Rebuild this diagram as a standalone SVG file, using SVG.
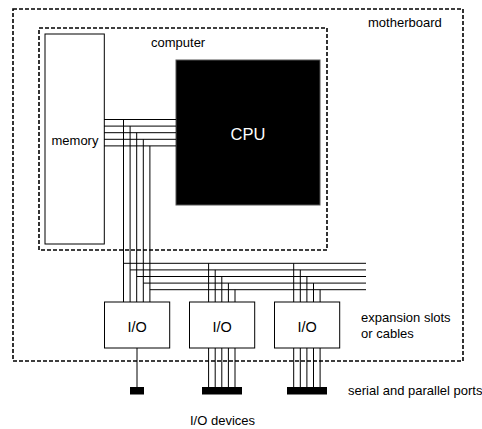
<svg xmlns="http://www.w3.org/2000/svg" width="482" height="429" viewBox="0 0 482 429">
<style>
text{font-family:"Liberation Sans",Arial,sans-serif;font-size:13px;fill:#000}
.dash{fill:none;stroke:#000;stroke-width:1.6;stroke-dasharray:4 2}
.box{fill:#fff;stroke:#000;stroke-width:1}
.w{stroke:#000;stroke-width:1;fill:none}
.port{fill:#000}
</style>
<rect width="482" height="429" fill="#fff"/>
<g id="motherboard">
<rect class="dash" x="13" y="9" width="450" height="352"/>
<text x="368" y="27">motherboard</text>
</g>
<g id="computer">
<rect class="dash" x="39" y="28" width="288" height="222"/>
<text x="151" y="47">computer</text>
</g>
<g id="memory">
<rect class="box" x="45" y="34" width="59.3" height="210" stroke="#444"/>
<text x="51.5" y="145">memory</text>
</g>
<g id="cpu">
<rect x="176" y="60" width="144" height="145" fill="#000" stroke="#555" stroke-width="1"/>
<text x="248" y="140" text-anchor="middle" fill="#fff" style="fill:#fff;font-size:16.5px">CPU</text>
</g>
<g id="connectors">
<path class="w" d="M104 119.5H176M104 126.1H176M104 132.7H176M104 139.3H176M104 145.9H176"/>
<path class="w" d="M123.5 119.5V302M130.1 126.1V302M136.7 132.7V302M143.3 139.3V302M149.9 145.9V302"/>
<path class="w" d="M123.5 263.3H366M130.1 269.9H366M136.7 276.5H366M143.3 283.1H366M149.9 289.7H366"/>
<path class="w" d="M208.6 263.3V302M215.2 269.9V302M221.8 276.5V302M228.4 283.1V302M235 289.7V302"/>
<path class="w" d="M293.7 263.3V302M300.3 269.9V302M306.9 276.5V302M313.5 283.1V302M320.1 289.7V302"/>
<path class="w" d="M137 348V387"/>
<path class="w" d="M208.6 348V387M215.2 348V387M221.8 348V387M228.4 348V387M235 348V387"/>
<path class="w" d="M293.7 348V387M300.3 348V387M306.9 348V387M313.5 348V387M320.1 348V387"/>
</g>
<g id="io1">
<rect class="box" x="104.5" y="302" width="65.2" height="46"/>
<text x="137.1" y="331.5" text-anchor="middle" style="font-size:14.5px">I/O</text>
</g>
<g id="io2">
<rect class="box" x="189.5" y="302" width="65.2" height="46"/>
<text x="222.1" y="331.5" text-anchor="middle" style="font-size:14.5px">I/O</text>
</g>
<g id="io3">
<rect class="box" x="274.5" y="302" width="65.2" height="46"/>
<text x="307.1" y="331.5" text-anchor="middle" style="font-size:14.5px">I/O</text>
</g>
<g id="ports">
<rect class="port" x="130" y="387" width="14" height="7.5"/>
<rect class="port" x="202" y="387" width="40" height="7.5"/>
<rect class="port" x="287" y="387" width="40" height="7.5"/>
</g>
<g id="labels">
<text x="361" y="322">expansion slots</text>
<text x="361" y="338">or cables</text>
<text x="348" y="395">serial and parallel ports</text>
<text x="190" y="425">I/O devices</text>
</g>
</svg>
